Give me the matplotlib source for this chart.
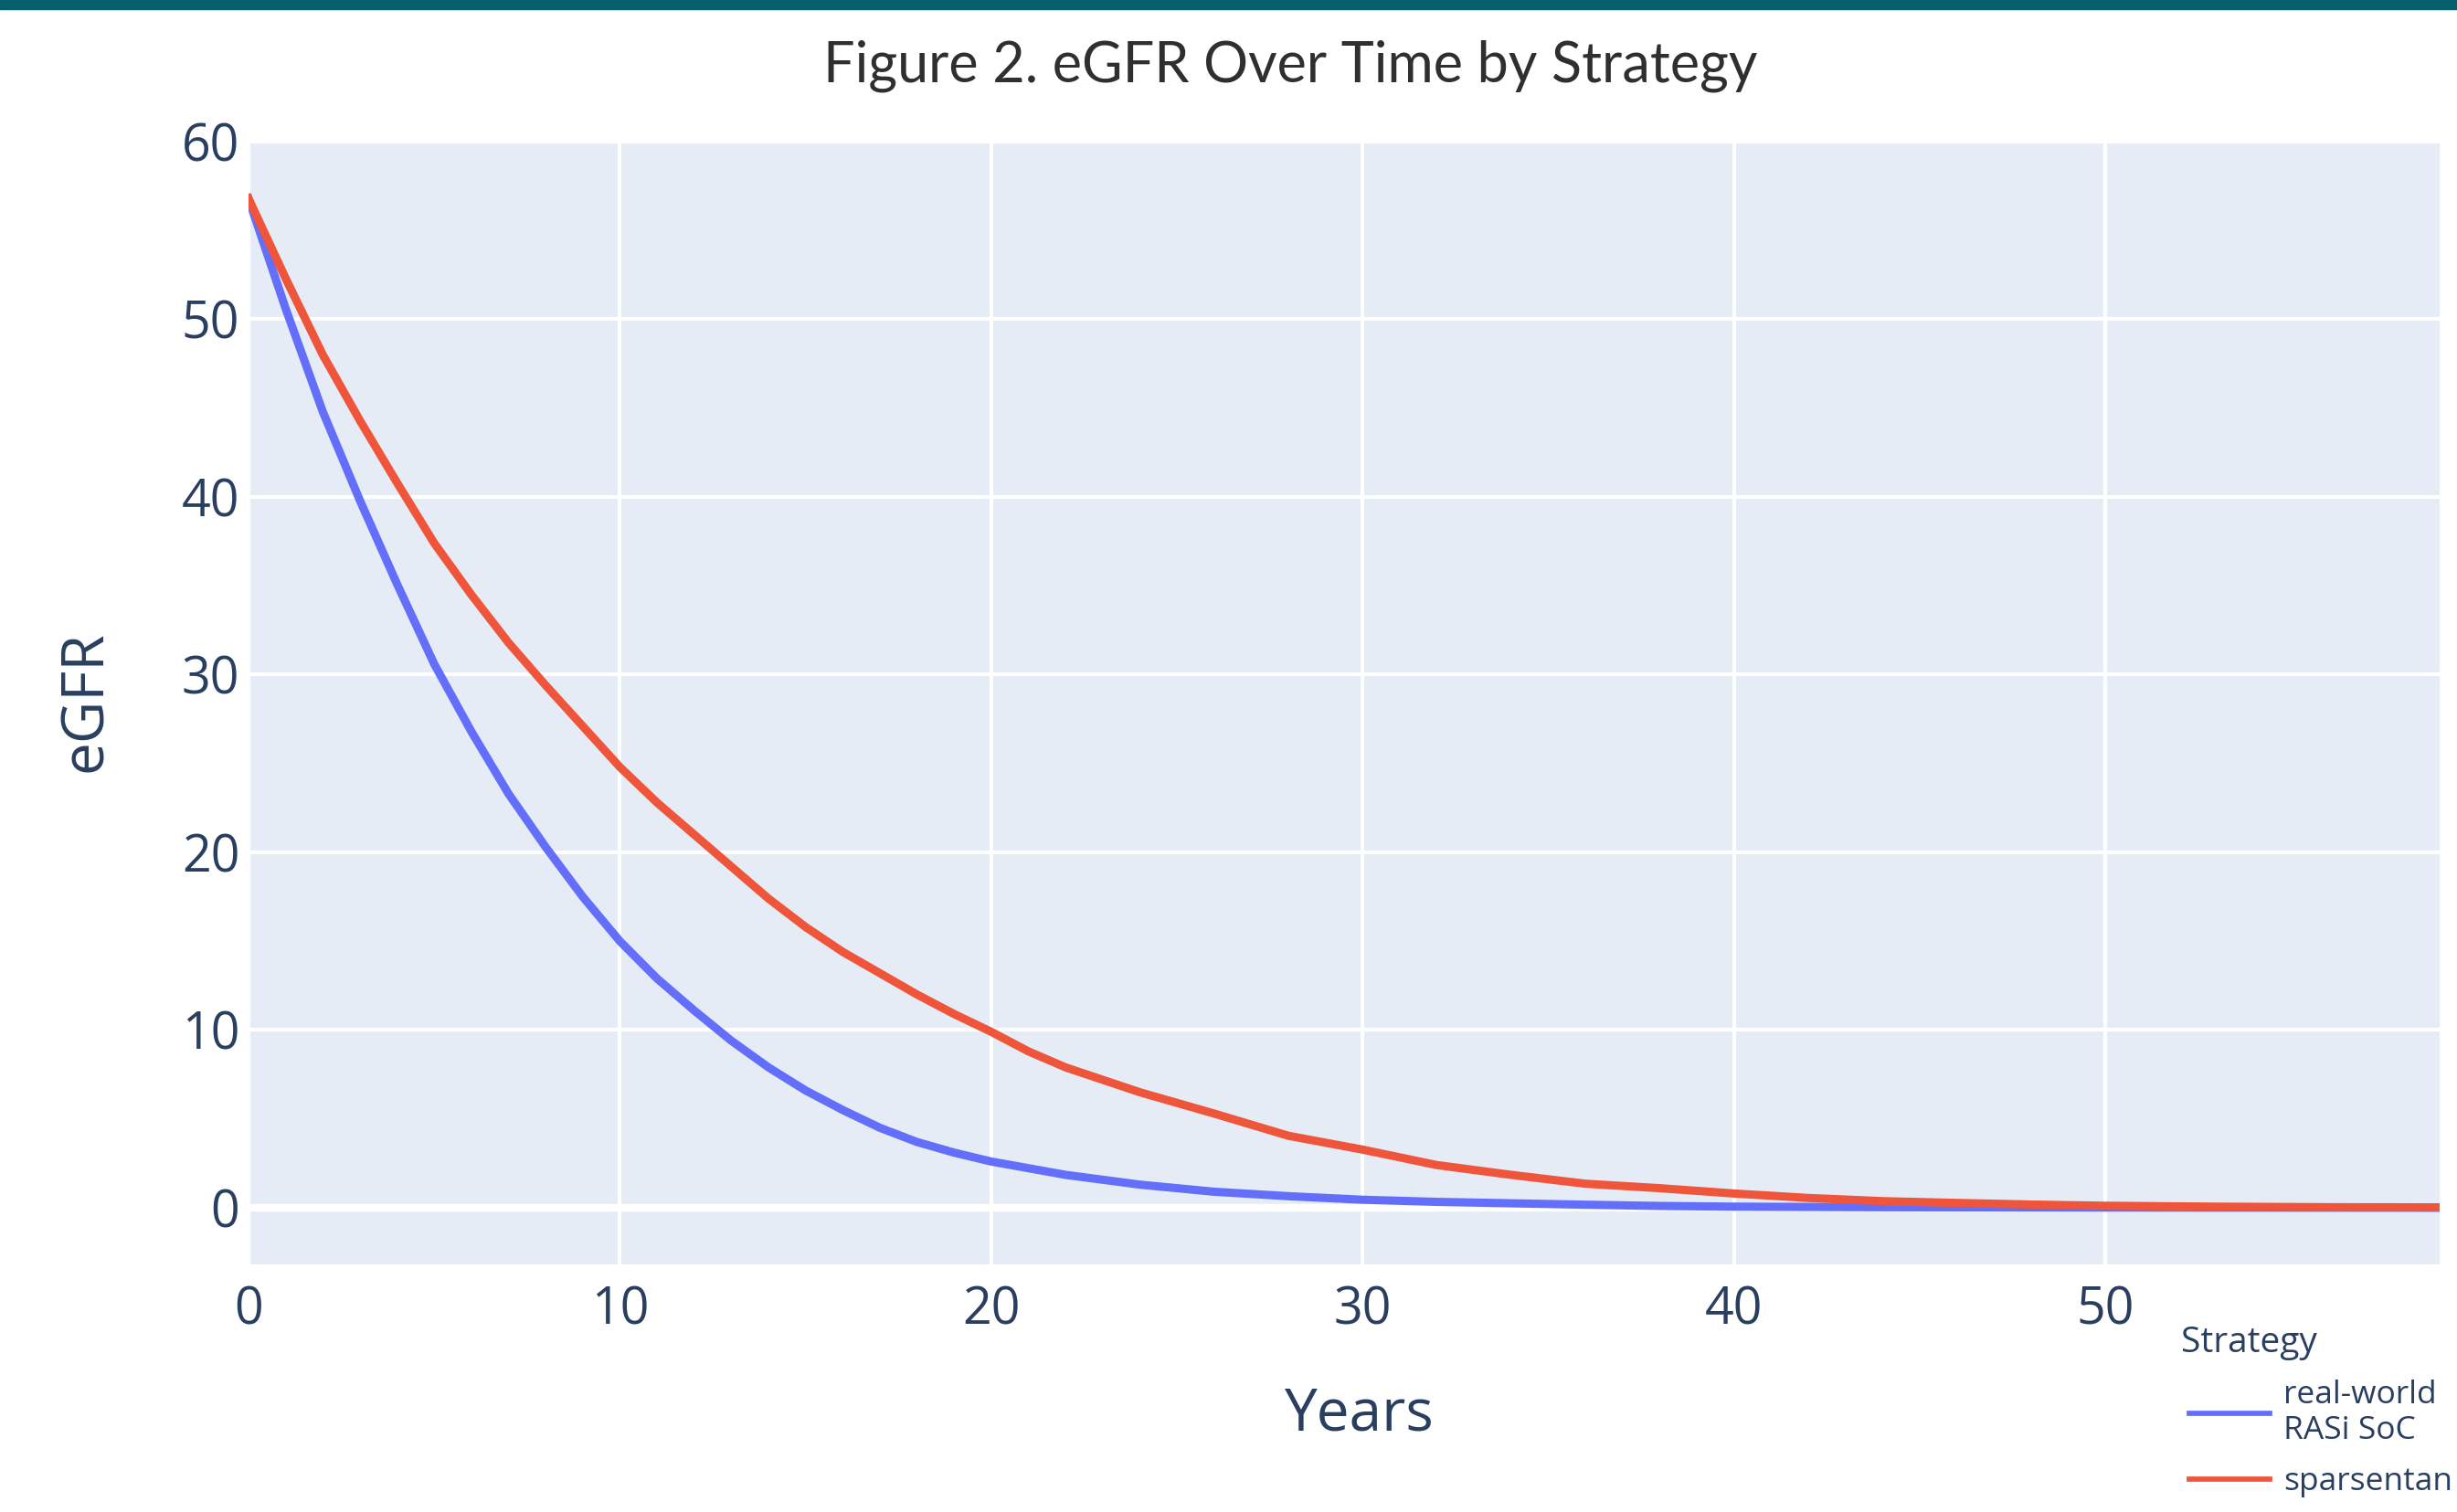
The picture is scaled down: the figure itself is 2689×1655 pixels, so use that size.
import matplotlib.pyplot as plt
from matplotlib.patches import Rectangle

# Valores (anos e eGFR por estratégia)
anos_soc = [0, 1, 2, 3, 4, 5, 6, 7, 8, 9, 10, 11, 12, 13, 14, 15, 16, 17, 18, 19,
            20, 22, 24, 26, 28, 30, 32, 34, 36, 38, 40, 44, 50, 59]
egfr_soc = [56.8, 50.6, 44.8, 39.8, 35.1, 30.6, 26.8, 23.3, 20.3, 17.5, 15.0, 12.9,
            11.1, 9.4, 7.9, 6.6, 5.5, 4.5, 3.7, 3.1, 2.6, 1.85, 1.3, 0.9, 0.65, 0.45,
            0.33, 0.25, 0.17, 0.1, 0.06, 0.03, 0.01, 0.0]

anos_spar = [0, 1, 2, 3, 4, 5, 6, 7, 8, 9, 10, 11, 12, 13, 14, 15, 16, 17, 18, 19,
             20, 21, 22, 24, 26, 28, 30, 32, 34, 36, 38, 40, 42, 44, 46, 48, 50, 53, 56, 59]
egfr_spar = [56.8, 52.3, 48.0, 44.3, 40.8, 37.4, 34.5, 31.8, 29.4, 27.1, 24.8, 22.8,
             21.0, 19.2, 17.4, 15.8, 14.4, 13.2, 12.0, 10.9, 9.9, 8.8, 7.9, 6.5, 5.3,
             4.05, 3.27, 2.4, 1.85, 1.35, 1.1, 0.8, 0.55, 0.37, 0.27, 0.18, 0.11, 0.06,
             0.03, 0.02]

nomes = ['real-world\nRASi SoC', 'sparsentan']
cores = ['#636efa', '#EF553B']

texto = '#2a3f5f'
plt.rcParams['font.family'] = ['Open Sans', 'DejaVu Sans']

fig = plt.figure(figsize=(26.89, 16.55), dpi=100, facecolor='white')
ax = fig.add_axes([0.10115, 0.16375, 0.89178, 0.74259])
ax.set_facecolor('#e5ecf6')

# Faixa superior
fig.add_artist(Rectangle((0, 1 - 10 / 1655), 1, 10 / 1655, transform=fig.transFigure,
                         color='#035f6b', zorder=5))

# Linhas
ax.plot(anos_soc, egfr_soc, color=cores[0], lw=6.5, label=nomes[0], zorder=4,
        solid_joinstyle='round')
ax.plot(anos_spar, egfr_spar, color=cores[1], lw=6.5, label=nomes[1], zorder=4,
        solid_joinstyle='round')

ax.set_xlim(0, 59)
ax.set_ylim(-3.19, 60)
ax.set_xticks([0, 10, 20, 30, 40, 50])
ax.set_yticks([0, 10, 20, 30, 40, 50, 60])

ax.grid(color='white', lw=3.0, zorder=1)
ax.axhline(0, color='white', lw=6.0, zorder=2)
ax.set_axisbelow(True)
for s in ax.spines.values():
    s.set_visible(False)
ax.tick_params(length=0, labelsize=40, labelcolor=texto)
ax.tick_params(axis='x', pad=16)
ax.tick_params(axis='y', pad=7)

# Títulos
fig.text(1412 / 2689, 1 - 72 / 1655, 'Figure 2. eGFR Over Time by Strategy',
         ha='center', va='center', fontsize=44, color='#2f2f2f', family='Lato')
fig.text(94 / 2689, 1 - 768 / 1655, 'eGFR', rotation=90, ha='center', va='center',
         fontsize=46, color=texto)
fig.text(1488 / 2689, 1 - 1549 / 1655, 'Years', ha='center', va='center',
         fontsize=46, color=texto)

# Legenda (título separado para ficar alinhado como no original)
fig.text(2387 / 2689, 1 - 1470 / 1655, 'Strategy', ha='left', va='center',
         fontsize=28, color=texto)
leg = ax.legend(loc='upper left', bbox_to_anchor=(2396 / 2689, 1 - 1510 / 1655),
                bbox_transform=fig.transFigure, frameon=False, fontsize=25.5,
                handlelength=2.48, handletextpad=0.42,
                labelspacing=0.62, borderpad=0, borderaxespad=0)
for t in leg.get_texts():
    t.set_color(texto)
for h in leg.legend_handles:
    h.set_linewidth(4.1)

plt.savefig('out.png', dpi=100, facecolor=fig.get_facecolor())
